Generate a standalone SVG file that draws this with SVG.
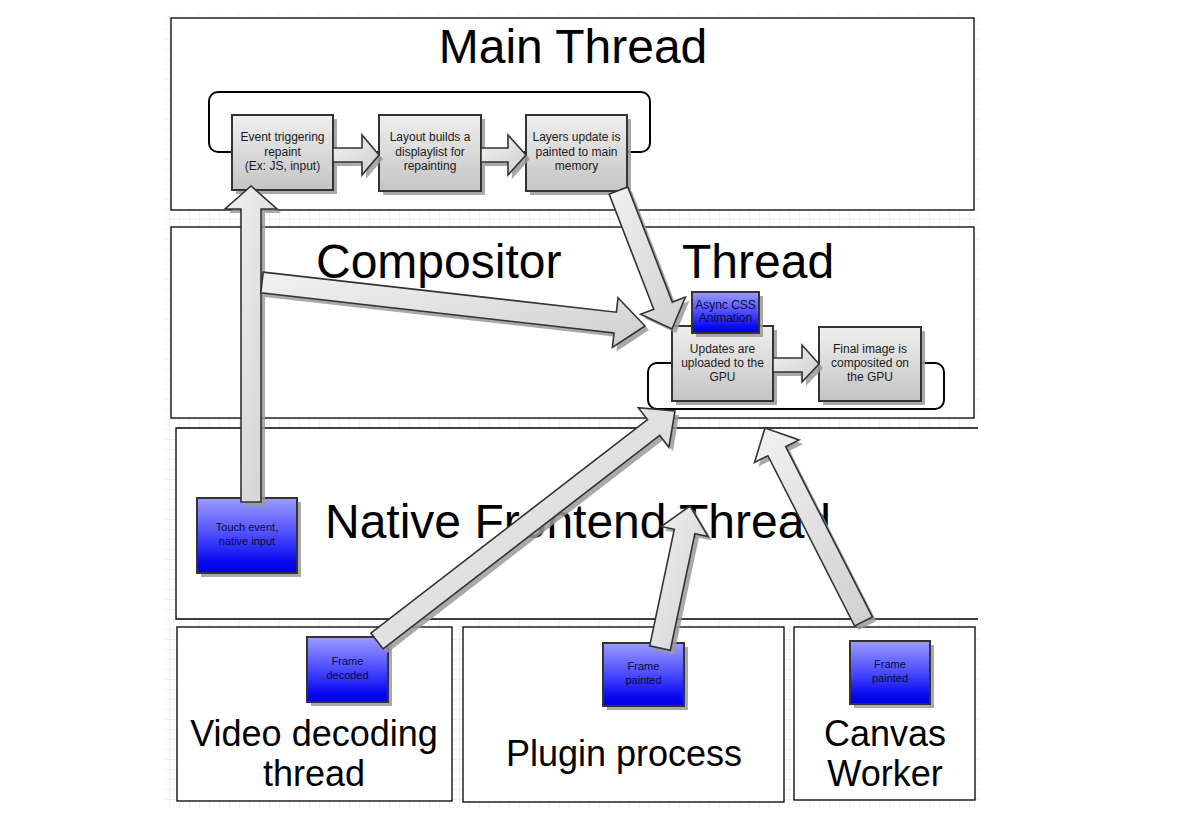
<svg xmlns="http://www.w3.org/2000/svg" width="1184" height="840" viewBox="0 0 1184 840">
<defs>
<pattern id="grid" width="10" height="10" patternUnits="userSpaceOnUse">
<path d="M10 0V10M0 10H10" fill="none" stroke="#d9d9ec" stroke-width="0.8"/>
</pattern>
<linearGradient id="gray" x1="0" y1="0" x2="0" y2="1">
<stop offset="0" stop-color="#efefef"/>
<stop offset="1" stop-color="#c4c4c4"/>
</linearGradient>
<linearGradient id="blue" x1="0" y1="0" x2="0" y2="1">
<stop offset="0" stop-color="#9c9cff"/>
<stop offset="0.5" stop-color="#4a4aff"/>
<stop offset="0.85" stop-color="#0a0af0"/>
<stop offset="1" stop-color="#0000e8"/>
</linearGradient>
<linearGradient id="arr" x1="0" y1="0" x2="1" y2="1">
<stop offset="0" stop-color="#f2f2f2"/>
<stop offset="1" stop-color="#cfcfcf"/>
</linearGradient>
</defs>
<style>
.cont{fill:#fff;stroke:#000;stroke-width:1.3}
.title{font-family:"Liberation Sans",Arial,sans-serif;font-size:48px;fill:#000}
.sub{font-family:"Liberation Sans",Arial,sans-serif;font-size:36px;fill:#000;text-anchor:middle}
.loop{fill:none;stroke:#000;stroke-width:2}
.shadow{fill:#9a9a9a;opacity:0.85}
.gnode{fill:url(#gray);stroke:#333;stroke-width:2}
.bnode{fill:url(#blue);stroke:#333;stroke-width:2}
.lbl{font-family:"Liberation Sans",Arial,sans-serif;font-size:12px;fill:#1a1a1a;text-anchor:middle}
.blbl{font-family:"Liberation Sans",Arial,sans-serif;font-size:11px;fill:#0a0a3a;text-anchor:middle}
.arrow{fill:url(#arr);stroke:#333;stroke-width:1.6;stroke-linejoin:miter}
</style>
<rect width="1184" height="840" fill="#fff"/>
<rect x="165" y="14" width="814" height="794" fill="url(#grid)"/>

<g id="containers">
<rect id="main-thread" class="cont" x="171" y="18" width="803" height="192"/>
<rect id="compositor-thread" class="cont" x="171" y="227" width="803" height="191"/>
<g id="native-frontend">
<rect x="176" y="428" width="802" height="191" fill="#fff"/>
<path d="M978 428H176V619H978" fill="none" stroke="#000" stroke-width="1.3"/>
</g>
<rect id="video-decoding" class="cont" x="177" y="627" width="275" height="174"/>
<rect id="plugin-process" class="cont" x="463" y="627" width="321" height="175"/>
<rect id="canvas-worker" class="cont" x="794" y="627" width="181" height="173"/>
</g>

<g id="titles">
<text class="title" x="573" y="63" text-anchor="middle">Main Thread</text>
<text class="title" x="316" y="278">Compositor</text>
<text class="title" x="682" y="278">Thread</text>
<text class="title" x="325" y="538">Native Frontend Thread</text>
<text class="sub" x="314" y="746">Video decoding</text>
<text class="sub" x="314" y="786">thread</text>
<text class="sub" x="624" y="766">Plugin process</text>
<text class="sub" x="885" y="746">Canvas</text>
<text class="sub" x="885" y="786">Worker</text>
</g>

<g id="loops">
<rect class="loop" x="209" y="92" width="441" height="60" rx="9"/>
<rect class="loop" x="648" y="363" width="296" height="46" rx="9"/>
</g>

<g id="event-node">
<rect class="shadow" x="236" y="119" width="101" height="75"/>
<rect class="gnode" x="232" y="115" width="101" height="75"/>
<text class="lbl" x="282.5" y="141">Event triggering</text>
<text class="lbl" x="282.5" y="156">repaint</text>
<text class="lbl" x="282.5" y="170">(Ex: JS, input)</text>
</g>
<g id="layout-node">
<rect class="shadow" x="383" y="119" width="102" height="76"/>
<rect class="gnode" x="379" y="115" width="102" height="76"/>
<text class="lbl" x="430" y="141">Layout builds a</text>
<text class="lbl" x="430" y="156">displaylist for</text>
<text class="lbl" x="430" y="170">repainting</text>
</g>
<g id="layers-node">
<rect class="shadow" x="530" y="119" width="101" height="76"/>
<rect class="gnode" x="526" y="115" width="101" height="76"/>
<text class="lbl" x="576.5" y="141">Layers update is</text>
<text class="lbl" x="576.5" y="156">painted to main</text>
<text class="lbl" x="576.5" y="170">memory</text>
</g>
<g id="updates-node">
<rect class="shadow" x="676" y="330" width="101" height="75"/>
<rect class="gnode" x="672" y="326" width="101" height="75"/>
<text class="lbl" x="722.5" y="353">Updates are</text>
<text class="lbl" x="722.5" y="367">uploaded to the</text>
<text class="lbl" x="722.5" y="381">GPU</text>
</g>
<g id="final-node">
<rect class="shadow" x="823" y="331" width="102" height="74"/>
<rect class="gnode" x="819" y="327" width="102" height="74"/>
<text class="lbl" x="870" y="353">Final image is</text>
<text class="lbl" x="870" y="367">composited on</text>
<text class="lbl" x="870" y="381">the GPU</text>
</g>
<g id="async-css-node">
<rect class="shadow" x="696" y="296" width="67" height="41"/>
<rect class="bnode" x="692" y="292" width="67" height="41"/>
<text class="lbl" x="725.5" y="309" style="fill:#0a0a3a">Async CSS</text>
<text class="lbl" x="725.5" y="322" style="fill:#0a0a3a">Animation</text>
</g>
<g id="touch-node">
<rect class="shadow" x="201" y="502" width="100" height="75"/>
<rect class="bnode" x="197" y="498" width="100" height="75"/>
<text class="blbl" x="247" y="531">Touch event,</text>
<text class="blbl" x="247" y="545">native input</text>
</g>
<g id="frame-decoded-node">
<rect class="shadow" x="311" y="641" width="81" height="65"/>
<rect class="bnode" x="307" y="637" width="81" height="65"/>
<text class="blbl" x="347.5" y="665">Frame</text>
<text class="blbl" x="347.5" y="679">decoded</text>
</g>
<g id="plugin-frame-node">
<rect class="shadow" x="607" y="647" width="81" height="63"/>
<rect class="bnode" x="603" y="643" width="81" height="63"/>
<text class="blbl" x="643.5" y="670">Frame</text>
<text class="blbl" x="643.5" y="684">painted</text>
</g>
<g id="canvas-frame-node">
<rect class="shadow" x="854" y="645" width="80" height="63"/>
<rect class="bnode" x="850" y="641" width="80" height="63"/>
<text class="blbl" x="890" y="668">Frame</text>
<text class="blbl" x="890" y="682">painted</text>
</g>

<g id="connectors">
<g id="a-event-layout">
<polygon class="shadow" points="337,152 366,152 366,139 383,159 366,179 366,166 337,166"/>
<polygon class="arrow" points="333,148 362,148 362,135 379,155 362,175 362,162 333,162"/>
</g>
<g id="a-layout-layers">
<polygon class="shadow" points="485,152 512,152 512,139 530,159 512,179 512,166 485,166"/>
<polygon class="arrow" points="481,148 508,148 508,135 526,155 508,175 508,162 481,162"/>
</g>
<g id="a-updates-final">
<polygon class="shadow" points="777,362 806,362 806,349 823,368 806,386 806,376 777,376"/>
<polygon class="arrow" points="773,358 802,358 802,345 819,364 802,382 802,372 773,372"/>
</g>
<g id="a-touch-event">
<polygon class="shadow" points="265,506 265,213 281,213 255,190 229,213 245,213 245,506"/>
<polygon class="arrow" points="261,502 261,209 277,209 251,186 225,209 241,209 241,502"/>
</g>
<g id="a-touch-updates">
<polygon class="shadow" points="267.2,276.1 620.4,316.2 622,301.8 649,330 616.4,351.4 618,337 264.8,296.9"/>
<polygon class="arrow" points="263.2,272.1 616.4,312.2 618,297.8 645,326 612.4,347.4 614,333 260.8,292.9"/>
</g>
<g id="a-layers-updates">
<polygon class="shadow" points="631.8,190.9 676.3,306.1 689.4,301.1 676,333 644.6,318.3 657.7,313.3 613.2,198.1"/>
<polygon class="arrow" points="627.8,186.9 672.3,302.1 685.4,297.1 672,329 640.6,314.3 653.7,309.3 609.2,194.1"/>
</g>
<g id="a-video-updates">
<polygon class="shadow" points="374.9,637.1 651.5,423.6 642.3,411.7 679,415 672.9,451.3 663.7,439.4 387.1,652.9"/>
<polygon class="arrow" points="370.9,633.1 647.5,419.6 638.3,407.7 675,411 668.9,447.3 659.7,435.4 383.1,648.9"/>
</g>
<g id="a-plugin-compositor">
<polygon class="shadow" points="653.7,649.8 678.3,533.3 665.1,530.5 694,510 712.1,540.5 698.9,537.7 674.3,654.2"/>
<polygon class="arrow" points="649.7,645.8 674.3,529.3 661.1,526.5 690,506 708.1,536.5 694.9,533.7 670.3,650.2"/>
</g>
<g id="a-canvas-compositor">
<polygon class="shadow" points="858.6,630 771.9,459.7 758.5,466.5 769,432 803.1,443.9 789.7,450.7 876.4,621"/>
<polygon class="arrow" points="854.6,626 767.9,455.7 754.5,462.5 765,428 799.1,439.9 785.7,446.7 872.4,617"/>
</g>
</g>
</svg>
